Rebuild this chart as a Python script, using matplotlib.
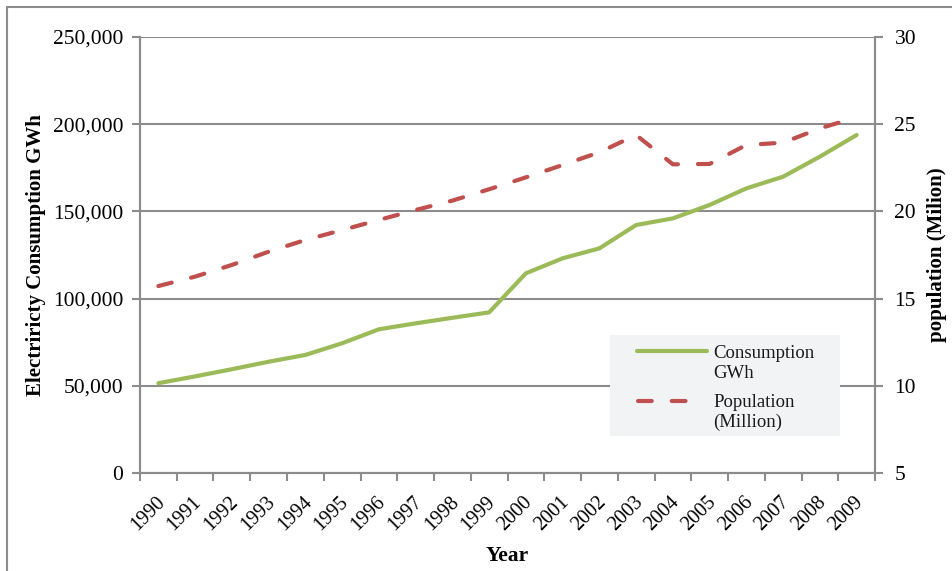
import matplotlib.pyplot as plt
from matplotlib.lines import Line2D
from matplotlib.patches import Rectangle
from matplotlib.ticker import FuncFormatter, FixedLocator
from matplotlib.transforms import ScaledTranslation

plt.rcParams['font.family'] = ['Liberation Serif', 'DejaVu Serif']

years = [str(y) for y in range(1990, 2010)]
consumption_gwh = [51500, 55400, 59500, 63800, 67700, 74400, 82400, 85800, 89000, 92100,
                   114500, 123100, 128800, 142200, 146000, 153700, 163200, 169900, 181400, 193800]
population_mil = [15.72, 16.26, 16.93, 17.69, 18.36, 18.93, 19.51, 20.08, 20.62, 21.27,
                  21.95, 22.66, 23.39, 24.38, 22.70, 22.72, 23.81, 23.94, 24.76, 25.40]

green = '#9bbb59'
red = '#c0504d'
grid_gray = '#8c8c8c'
W, H = 953, 571

fig = plt.figure(figsize=(W / 100, H / 100), dpi=100)
ax = fig.add_axes([140 / W, 1 - 473 / H, 735 / W, 436 / H])
ax2 = ax.twinx()

x = list(range(len(years)))
ax.plot(x, consumption_gwh, color=green, lw=3, solid_capstyle='round', zorder=3)
ax2.plot(x, population_mil, color=red, lw=3, dashes=(3.3, 4.8),
         dash_capstyle='round', zorder=3)

ax.set_xlim(-0.5, len(years) - 0.5)
ax.set_ylim(0, 250000)
ax2.set_ylim(5, 30)
ax.set_yticks(range(0, 250001, 50000))
ax2.set_yticks(range(5, 31, 5))
ax.yaxis.set_major_formatter(FuncFormatter(lambda v, p: f'{int(v):,}'))

# ticks sit on the category boundaries, labels in the middle
ax.xaxis.set_major_locator(FixedLocator([i - 0.5 for i in range(len(years) + 1)]))
ax.xaxis.set_major_formatter(FuncFormatter(lambda v, p: ''))
ax.set_xticks(x, minor=True)
ax.set_xticklabels(years, minor=True, rotation=45, ha='right', rotation_mode='anchor',
                   fontsize=14.5)
ax.tick_params(axis='x', which='minor', length=0, pad=14)
ax.tick_params(axis='x', which='major', length=6, width=1.5, color=grid_gray, direction='out')
ax.tick_params(axis='y', length=6, width=1.5, color=grid_gray, labelsize=15.5, pad=6)
ax2.tick_params(axis='y', length=6, width=1.5, color=grid_gray, labelsize=15.5, pad=8)
shift = ScaledTranslation(-3 / 100, 0, fig.dpi_scale_trans)
for lab in ax.get_xticklabels(minor=True):
    lab.set_transform(lab.get_transform() + shift)

ax.grid(axis='y', color=grid_gray, lw=1.5)
ax.set_axisbelow(True)
for a in (ax, ax2):
    a.spines['top'].set_visible(False)
    for s in ('left', 'right', 'bottom'):
        a.spines[s].set_color(grid_gray)
        a.spines[s].set_linewidth(1.5)

ax.set_ylabel('Electriricty Consumption GWh', fontsize=15, fontweight='bold', labelpad=5)
ax2.set_ylabel('population (Milion)', fontsize=15, fontweight='bold', labelpad=8)
ax.set_xlabel('Year', fontsize=15.5, fontweight='bold')
ax.xaxis.set_label_coords(0.4993, -0.168)


def fx(px):
    return px / W


def fy(py):
    return 1 - py / H


# legend box drawn by hand so the sample line sits on the first text line
fig.add_artist(Rectangle((fx(610), fy(436)), fx(840) - fx(610), fy(335) - fy(436),
                         transform=fig.transFigure, facecolor='#f2f3f5',
                         edgecolor='none', zorder=5))
fig.add_artist(Line2D([fx(637), fx(707)], [fy(351), fy(351)], transform=fig.transFigure,
                      color=green, lw=3, solid_capstyle='round', zorder=6))
fig.add_artist(Line2D([fx(638), fx(693)], [fy(401), fy(401)], transform=fig.transFigure,
                      color=red, lw=3, dashes=(3.3, 4.8), dash_capstyle='round', zorder=6))
for label, base in [('Consumption', 358), ('GWh', 378), ('Population', 407), ('(Million)', 427)]:
    fig.text(fx(713), fy(base), label, fontsize=13.5, va='baseline', ha='left',
             color='#1a1a1a', zorder=7)

# outer frame around the chart
fig.add_artist(Rectangle((fx(7), -0.1), 1.2, fy(7) + 0.1, transform=fig.transFigure,
                         fill=False, edgecolor=grid_gray, lw=1.5))

fig.savefig('out.png', dpi=100)
